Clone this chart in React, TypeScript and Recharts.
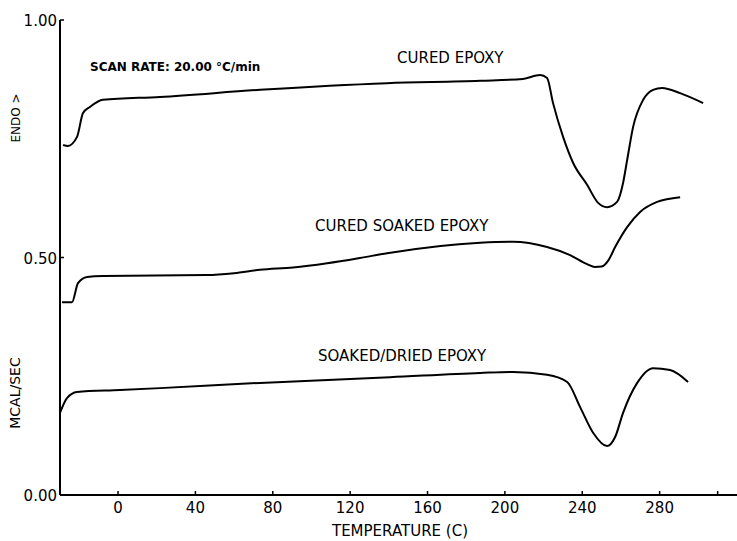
import React from 'react';
import { LineChart, Line, XAxis, YAxis } from 'recharts';

// DSC traces, temperature (C) vs heat flow (mcal/sec)
const curedTemp = [-28.4, -25.9, -21.2, -18.1, -14.5, -7.8, 21.7, 73.4, 139, 187.2, 209.4, 218.2, 221.8, 224.9, 230.1, 235.3, 242.5, 248.2, 252.8, 258, 261.1, 263.2, 266.3, 271.5, 276.6, 281.3, 290.6, 302.5];
const curedFlow = [0.737, 0.735, 0.754, 0.804, 0.817, 0.832, 0.838, 0.853, 0.867, 0.872, 0.876, 0.884, 0.878, 0.825, 0.754, 0.699, 0.653, 0.615, 0.606, 0.617, 0.657, 0.705, 0.775, 0.832, 0.853, 0.857, 0.846, 0.825];

const soakedTemp = [-29.0, -23.8, -20.7, -16.0, -7.8, 46.0, 60.0, 73.4, 90.5, 108.1, 125.0, 139.1, 187.2, 204.2, 221.8, 233.7, 242.5, 246.6, 250.0, 253.5, 257.0, 263.2, 269.9, 278.7, 290.6];
const soakedFlow = [0.406, 0.406, 0.446, 0.459, 0.461, 0.463, 0.467, 0.474, 0.479, 0.488, 0.499, 0.509, 0.531, 0.533, 0.522, 0.505, 0.486, 0.48, 0.481, 0.494, 0.522, 0.564, 0.596, 0.617, 0.627];

const driedTemp = [-30.0, -26.4, -21.2, 1.0, 21.7, 73.4, 140.6, 187.2, 204.2, 221.8, 232.2, 238.9, 245.6, 252.8, 257.0, 261.1, 268.4, 276.6, 285.4, 294.7];
const driedFlow = [0.173, 0.204, 0.217, 0.221, 0.225, 0.236, 0.248, 0.257, 0.259, 0.253, 0.238, 0.185, 0.131, 0.103, 0.122, 0.173, 0.236, 0.267, 0.263, 0.238];

const xTicks = [0, 40, 80, 120, 160, 200, 240, 280, 310];
const xTickLabels = ['0', '40', '80', '120', '160', '200', '240', '280', ''];
const yTicks = [0, 0.5, 1];
const yTickLabels = ['0.00', '0.50', '1.00'];

const zip = (t: number[], v: number[]) => t.map((temp, i) => ({ temp, flow: v[i] }));

const cured = zip(curedTemp, curedFlow);
const soaked = zip(soakedTemp, soakedFlow);
const dried = zip(driedTemp, driedFlow);

const FONT = '"DejaVu Sans", sans-serif';

function XTick(props: any) {
  const { x, y, payload } = props;
  const idx = xTicks.indexOf(payload.value);
  return (
    <g>
      <line x1={x} y1={y} x2={x} y2={y - 4} stroke="#000" strokeWidth={1.5} />
      <text x={x} y={y + 18} textAnchor="middle" fontSize={15} fontFamily={FONT} fill="#000">
        {xTickLabels[idx]}
      </text>
    </g>
  );
}

function YTick(props: any) {
  const { x, y, payload } = props;
  const idx = yTicks.indexOf(payload.value);
  return (
    <g>
      <line x1={x} y1={y} x2={x + 4} y2={y} stroke="#000" strokeWidth={1.5} />
      <text x={x - 3} y={y + 6} textAnchor="end" fontSize={15} fontFamily={FONT} fill="#000">
        {yTickLabels[idx]}
      </text>
    </g>
  );
}

export default function App() {
  const W = 737;
  const H = 541;
  return (
    <div style={{ position: 'absolute', left: 0, top: 0, width: W, height: H, background: '#fff' }}>
      <LineChart width={W} height={H} margin={{ top: 20, right: 0, bottom: 16, left: 0 }}>
        <XAxis
          dataKey="temp"
          type="number"
          domain={[-30, 320]}
          ticks={xTicks}
          allowDataOverflow
          height={30}
          tickSize={0}
          tickMargin={0}
          tickLine={false}
          tick={<XTick />}
          axisLine={{ stroke: '#000', strokeWidth: 2 }}
        />
        <YAxis
          type="number"
          domain={[0, 1]}
          ticks={yTicks}
          width={60}
          tickSize={0}
          tickMargin={0}
          tickLine={false}
          tick={<YTick />}
          axisLine={{ stroke: '#000', strokeWidth: 2 }}
        />
        <Line data={cured} dataKey="flow" type="monotone" stroke="#000" strokeWidth={2} dot={false} isAnimationActive={false} />
        <Line data={soaked} dataKey="flow" type="monotone" stroke="#000" strokeWidth={2} dot={false} isAnimationActive={false} />
        <Line data={dried} dataKey="flow" type="monotone" stroke="#000" strokeWidth={2} dot={false} isAnimationActive={false} />
      </LineChart>
      <svg width={W} height={H} style={{ position: 'absolute', left: 0, top: 0, pointerEvents: 'none' }}>
        <g fontFamily={FONT} fill="#000">
          <text x={90} y={71} fontSize={12} fontWeight="bold">SCAN RATE:  20.00 °C/min</text>
          <text x={397} y={63} fontSize={15}>CURED EPOXY</text>
          <text x={315} y={231} fontSize={15}>CURED SOAKED EPOXY</text>
          <text x={318} y={361} fontSize={15}>SOAKED/DRIED EPOXY</text>
          <text x={400} y={536} fontSize={15} textAnchor="middle">TEMPERATURE (C)</text>
          <text transform="translate(20,118) rotate(-90)" fontSize={12} textAnchor="middle">ENDO &gt;</text>
          <text transform="translate(20,393) rotate(-90)" fontSize={14} textAnchor="middle">MCAL/SEC</text>
        </g>
      </svg>
    </div>
  );
}
